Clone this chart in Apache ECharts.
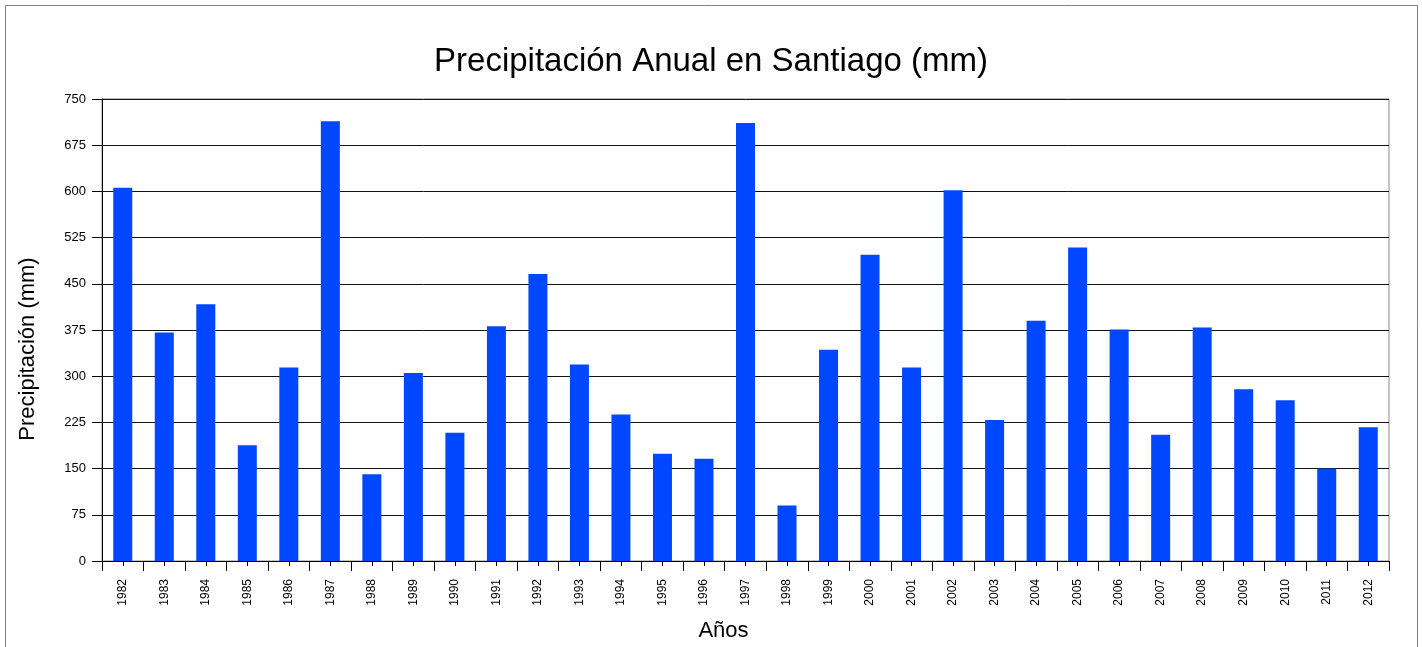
<!DOCTYPE html>
<html>
<head>
<meta charset="utf-8">
<script src="https://cdn.jsdelivr.net/npm/echarts@6/dist/echarts.min.js"></script>
<style>
  html, body { margin: 0; padding: 0; background: #fff; }
  #chart { width: 1422px; height: 647px; }
</style>
</head>
<body>
<div id="chart"></div>
<script>
// data
const years = ['1982', '1983', '1984', '1985', '1986', '1987', '1988', '1989', '1990', '1991',
  '1992', '1993', '1994', '1995', '1996', '1997', '1998', '1999', '2000', '2001',
  '2002', '2003', '2004', '2005', '2006', '2007', '2008', '2009', '2010', '2011', '2012'];
const rainfall = [606, 371, 417, 188, 314, 714, 141, 305, 208, 381,
  466, 319, 238, 174, 166, 711, 90, 343, 497, 314,
  602, 229, 390, 509, 376, 205, 379, 279, 261, 150, 217];
const yTicks = { min: 0, max: 750, step: 75 };

const chart = echarts.init(document.getElementById('chart'));

const option = {
  backgroundColor: '#fff',
  animation: false,
  title: {
    text: 'Precipitación Anual en Santiago (mm)',
    left: 'center',
    top: 40,
    textStyle: {
      fontFamily: '"Liberation Sans Narrow", "Liberation Sans", sans-serif',
      fontSize: 33,
      fontWeight: 'normal',
      color: '#000'
    }
  },
  graphic: [{
    type: 'rect',
    shape: { x: 5.5, y: 5.5, width: 1412, height: 660 },
    style: { fill: 'none', stroke: '#7f7f7f', lineWidth: 1 },
    silent: true
  }],
  grid: {
    left: 102,
    right: 33,
    top: 99,
    bottom: 86,
    show: true,
    borderColor: '#888',
    borderWidth: 1
  },
  xAxis: [{
    type: 'category',
    data: years,
    name: 'Años',
    nameLocation: 'middle',
    nameGap: 59,
    nameTextStyle: {
      fontFamily: 'Liberation Sans, sans-serif',
      fontSize: 22,
      color: '#000',
      padding: [0, 44, 0, 0]
    },
    axisLine: { lineStyle: { color: '#000', width: 1 } },
    axisTick: { show: true, length: 10, lineStyle: { color: '#000' } },
    axisLabel: {
      rotate: 90,
      margin: 18,
      fontFamily: 'Liberation Sans, sans-serif',
      fontSize: 12,
      color: '#000',
      interval: 0
    }
  }, {
    // short ticks under each bar's centre
    type: 'category',
    data: years,
    position: 'bottom',
    axisLine: { show: false },
    axisTick: { show: true, alignWithLabel: true, length: 5, lineStyle: { color: '#000' } },
    axisLabel: { show: false },
    splitLine: { show: false }
  }],
  yAxis: {
    type: 'value',
    min: yTicks.min,
    max: yTicks.max,
    interval: yTicks.step,
    name: 'Precipitación (mm)',
    nameLocation: 'middle',
    nameGap: 63,
    nameTextStyle: {
      fontFamily: 'Liberation Sans, sans-serif',
      fontSize: 22,
      color: '#000',
      padding: [0, 38, 0, 0]
    },
    axisLine: { show: true, lineStyle: { color: '#000', width: 1 } },
    axisTick: { show: true, length: 10, lineStyle: { color: '#000' } },
    axisLabel: {
      margin: 16,
      fontFamily: 'Liberation Sans, sans-serif',
      fontSize: 13,
      color: '#000'
    },
    splitLine: { show: true, lineStyle: { color: '#111', width: 1 } }
  },
  series: [{
    type: 'bar',
    data: rainfall,
    barWidth: 19,
    itemStyle: { color: '#0047ff' }
  }]
};

chart.setOption(option);
</script>
</body>
</html>
